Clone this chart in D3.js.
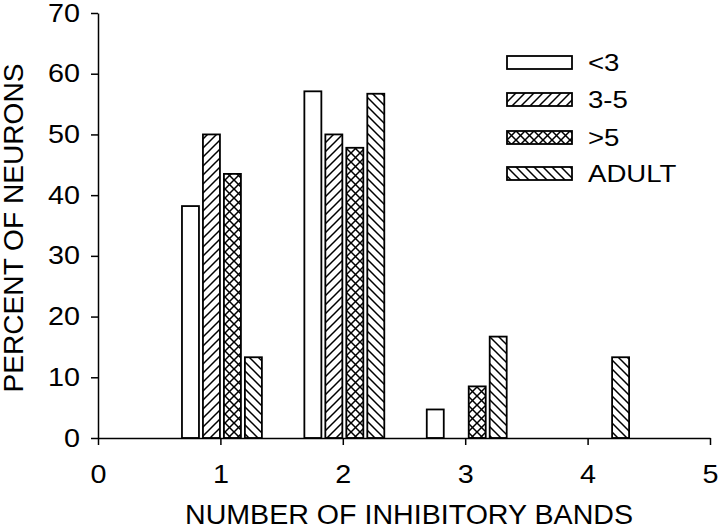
<!DOCTYPE html>
<html>
<head>
<meta charset="utf-8">
<script src="https://cdn.jsdelivr.net/npm/d3@7"></script>
<style>
  body { margin: 0; background: #fff; }
  svg { display: block; font-family: "Liberation Sans", Arial, sans-serif; }
</style>
</head>
<body>
<div id="chart"></div>
<script>
// number of inhibitory bands (x categories)
const bands = [1, 2, 3, 4];
const series = ["<3", "3-5", ">5", "ADULT"];
// percent of neurons, one array per age group
const lt3 = [38.2, 57.1, 4.7, 0];
const mid = [50, 50, 0, 0];
const gt5 = [43.5, 47.8, 8.5, 0];
const adult = [13.3, 56.7, 16.7, 13.3];
const xTicks = [0, 1, 2, 3, 4, 5];
const yTicks = [0, 10, 20, 30, 40, 50, 60, 70];

const values = [lt3, mid, gt5, adult];
const fills = ["#fff", "url(#hatchFwd)", "url(#hatchCross)", "url(#hatchBack)"];

const width = 720, height = 529;
const svg = d3.select("#chart").append("svg")
    .attr("width", width)
    .attr("height", height);

// the original lettering is a bit wider than Liberation Sans
function widen(sel, k) {
    sel.each(function() {
        const w = this.getComputedTextLength();
        d3.select(this).attr("textLength", w * k).attr("lengthAdjust", "spacingAndGlyphs");
    });
}

// hatch patterns
const defs = svg.append("defs");
function hatch(id, lines) {
    const p = defs.append("pattern")
        .attr("id", id)
        .attr("patternUnits", "userSpaceOnUse")
        .attr("width", 9).attr("height", 9);
    p.append("rect").attr("width", 9).attr("height", 9).attr("fill", "#fff");
    lines.forEach(d => p.append("path").attr("d", d)
        .attr("stroke", "#000").attr("stroke-width", 1.5).attr("fill", "none"));
}
const fwd = "M-1,10 L10,-1 M-2,2 L2,-2 M7,11 L11,7";
const back = "M-1,-1 L10,10 M-2,7 L2,11 M7,-2 L11,2";
hatch("hatchFwd", [fwd]);
hatch("hatchBack", [back]);
hatch("hatchCross", [fwd, back]);

const x = d3.scaleLinear().domain([0, 5]).range([98, 710]);
const y = d3.scaleLinear().domain([0, 70]).range([438, 13]);
const x1 = d3.scaleBand().domain(series).range([-0.314, 0.339]).paddingInner(0.19);

// bars
series.forEach((s, i) => {
    const data = bands.map((b, j) => ({ band: b, value: values[i][j] })).filter(d => d.value > 0);
    svg.append("g").selectAll("rect").data(data).enter()
        .append("rect")
            .attr("x", d => x(d.band + x1(s)))
            .attr("width", d => x(d.band + x1(s) + x1.bandwidth()) - x(d.band + x1(s)))
            .attr("y", d => y(d.value))
            .attr("height", d => y(0) - y(d.value))
            .attr("fill", fills[i])
            .attr("stroke", "#000")
            .attr("stroke-width", 1.8);
});

// axes
const xAxis = svg.append("g")
    .attr("transform", `translate(0,${y(0)})`)
    .call(d3.axisBottom(x).tickValues(xTicks).tickFormat(d3.format("d"))
        .tickSize(7).tickPadding(20).tickSizeOuter(0));
const yAxis = svg.append("g")
    .attr("transform", `translate(${x(0)},0)`)
    .call(d3.axisLeft(y).tickValues(yTicks).tickFormat(d3.format("d"))
        .tickSize(7).tickPadding(11).tickSizeOuter(0));
[xAxis, yAxis].forEach(a => {
    a.selectAll("path, line").attr("stroke", "#000").attr("stroke-width", 1.5);
    a.selectAll("text").attr("fill", "#000").style("font-size", "25px")
        .style("font-family", "'Liberation Sans', Arial, sans-serif");
    widen(a.selectAll("text"), 1.15);
});

svg.append("text")
    .attr("x", 409).attr("y", 524)
    .attr("text-anchor", "middle")
    .attr("textLength", 448)
    .attr("lengthAdjust", "spacingAndGlyphs")
    .style("font-size", "27px")
    .text("NUMBER OF INHIBITORY BANDS");

svg.append("text")
    .attr("transform", "translate(23,228) rotate(-90)")
    .attr("text-anchor", "middle")
    .attr("textLength", 329)
    .attr("lengthAdjust", "spacingAndGlyphs")
    .style("font-size", "27px")
    .text("PERCENT OF NEURONS");

// legend
const legend = svg.append("g").selectAll("g").data(series).enter()
    .append("g")
        .attr("transform", (d, i) => `translate(507,${[56, 93, 131, 167][i]})`);
legend.append("rect")
    .attr("width", 65).attr("height", 13)
    .attr("fill", (d, i) => fills[i])
    .attr("stroke", "#000").attr("stroke-width", 1.8);
legend.append("text")
    .attr("x", 81).attr("y", 15)
    .style("font-size", "23px")
    .text(d => d);
widen(legend.selectAll("text"), 1.2);
</script>
</body>
</html>
